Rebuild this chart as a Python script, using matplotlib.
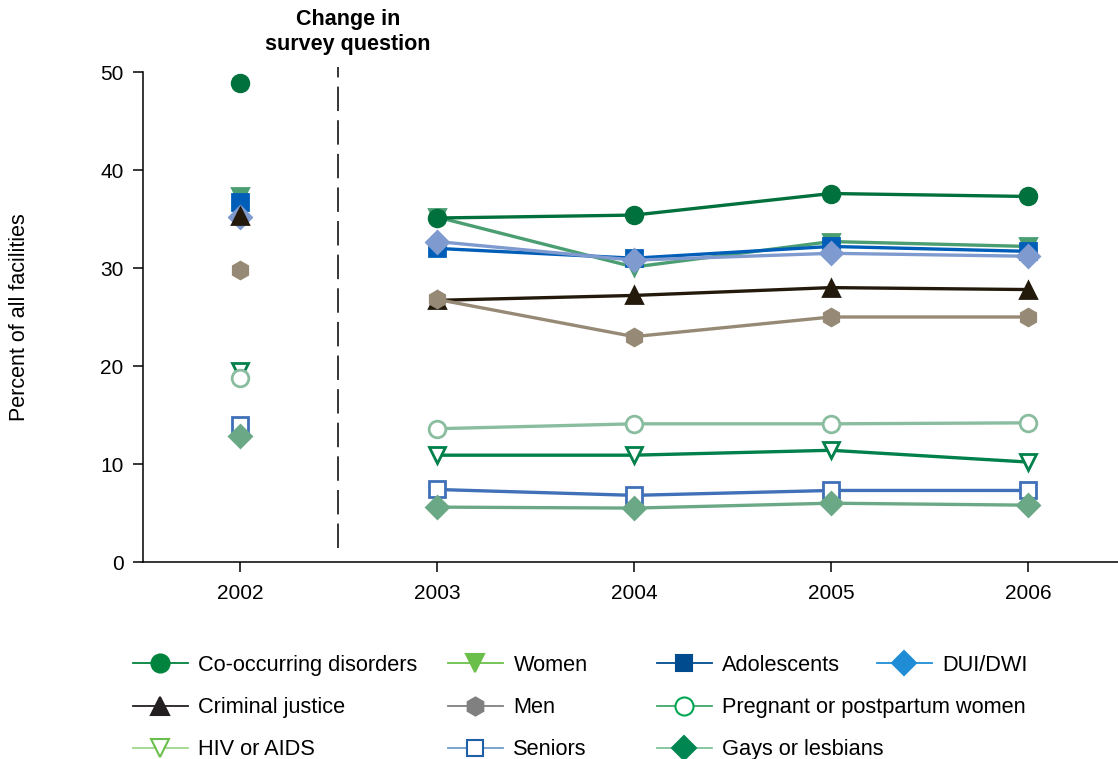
import matplotlib
matplotlib.use("Agg")
import matplotlib.pyplot as plt
from matplotlib.lines import Line2D

plt.rcParams['font.family'] = ['Liberation Sans', 'DejaVu Sans']

years = [2002, 2003, 2004, 2005, 2006]

# percent of all facilities, 2002..2006
co_occurring = [48.9, 35.1, 35.4, 37.6, 37.3]
women = [37.3, 35.2, 30.1, 32.7, 32.2]
adolescents = [36.7, 32.0, 31.0, 32.2, 31.7]
dui_dwi = [35.2, 32.7, 30.8, 31.5, 31.2]
criminal = [35.3, 26.7, 27.2, 28.0, 27.8]
men = [29.8, 26.8, 23.0, 25.0, 25.0]
hiv = [19.5, 10.9, 10.9, 11.4, 10.2]
pregnant = [18.8, 13.6, 14.1, 14.1, 14.2]
seniors = [14.0, 7.4, 6.8, 7.3, 7.3]
gays = [12.9, 5.6, 5.5, 6.0, 5.8]

# (label, values, marker, plot colour, filled, legend colour, legend line colour)
series = [
    ("Women", women, "v", "#4a9e72", True, "#6abf4b", "#6abf4b"),
    ("Adolescents", adolescents, "s", "#005eb8", True, "#004b8d", "#004b8d"),
    ("DUI/DWI", dui_dwi, "D", "#7f9acf", True, "#1f8dd6", "#1f8dd6"),
    ("Criminal justice", criminal, "^", "#231a0c", True, "#231f20", "#231f20"),
    ("Men", men, "h", "#968a76", True, "#808080", "#808080"),
    ("HIV or AIDS", hiv, "v", "#00804a", False, "#6abf4b", "#9fd58a"),
    ("Pregnant or postpartum women", pregnant, "o", "#8abda0", False, "#00a651", "#3fa86a"),
    ("Seniors", seniors, "s", "#3f70b8", False, "#1f5fa8", "#6f9cc8"),
    ("Gays or lesbians", gays, "D", "#6ba886", True, "#008751", "#7fc49a"),
    ("Co-occurring disorders", co_occurring, "o", "#00703c", True, "#00843d", "#00843d"),
]

fig = plt.figure(figsize=(11.18, 7.59), dpi=100)
ax = fig.add_axes([143 / 1118, 1 - 562 / 759, 1 - 143 / 1118, (562 - 72) / 759])

msize = {"o": 12, "v": 12, "^": 12, "s": 11, "D": 11, "h": 12}
for label, vals, mk, col, filled, lcol, llcol in series:
    fc = col if filled else "white"
    ms = msize[mk]
    ax.plot(years[:1], vals[:1], linestyle="none", marker=mk, ms=ms,
            mfc=fc, mec=col, mew=2)
    ax.plot(years[1:], vals[1:], color=col, lw=2.4, marker=mk, ms=ms,
            mfc=fc, mec=col, mew=2)

ax.plot([2002.5, 2002.5], [1.4, 50.5], color="black", lw=1.1,
        linestyle=(0, (16, 6)), clip_on=False)
fig.text(348 / 1118, 1 - 9 / 759, "Change in\nsurvey question", ha="center",
         va="top", fontsize=15.5, fontweight="bold", linespacing=1.25)

ax.set_xlim(2001.508, 2006.457)
ax.set_ylim(0, 50)
ax.set_xticks(years)
ax.set_yticks([0, 10, 20, 30, 40, 50])
for s in ["top", "right"]:
    ax.spines[s].set_visible(False)
for s in ["left", "bottom"]:
    ax.spines[s].set_linewidth(1.1)
ax.tick_params(axis="both", direction="out", length=7, width=1.1, labelsize=15)
ax.tick_params(axis="y", pad=7)
ax.tick_params(axis="x", pad=9)
fig.text(20 / 1118, 1 - 317 / 759, "Percent of all facilities", rotation=90,
         ha="center", va="center", fontsize=15.5)

# legend: four columns placed like the original grid
by_label = {s[0]: s for s in series}
columns = [
    (133, ["Co-occurring disorders", "Criminal justice", "HIV or AIDS"]),
    (448, ["Women", "Men", "Seniors"]),
    (657, ["Adolescents", "Pregnant or postpartum women", "Gays or lesbians"]),
    (877, ["DUI/DWI"]),
]
for xpix, names in columns:
    handles = []
    for n in names:
        label, vals, mk, col, filled, lcol, llcol = by_label[n]
        handles.append(Line2D([], [], color=llcol, lw=1.3, marker=mk,
                              ms=msize[mk] + 1, mfc=lcol if filled else "white",
                              mec=lcol, mew=1.5))
    leg = fig.legend(handles, names, loc="upper left",
                     bbox_to_anchor=(xpix / 1118, 1 - 655 / 759),
                     frameon=False, fontsize=15.7, borderpad=0, borderaxespad=0,
                     handlelength=2.5, handletextpad=0.5, labelspacing=0.97)

fig.savefig("out.png", dpi=100)
